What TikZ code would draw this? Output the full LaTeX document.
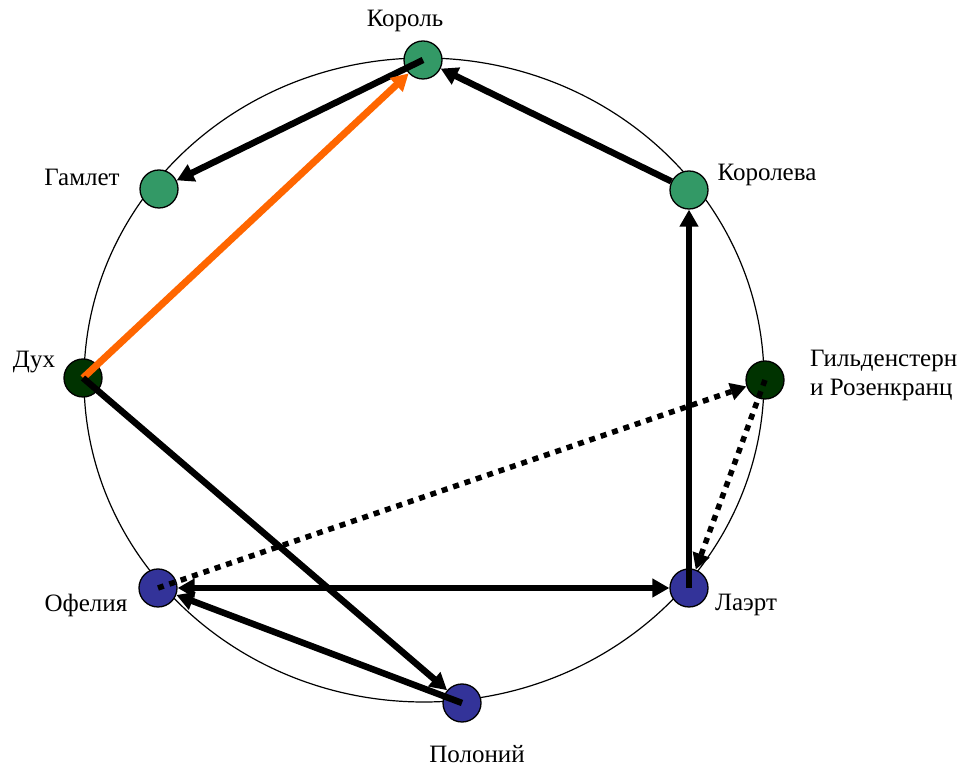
\documentclass[tikz,border=0pt]{standalone}
\usepackage{fontspec}
\setmainfont{Liberation Serif}
\usepackage{tkz-euclide}
\usetikzlibrary{arrows.meta}

\definecolor{courtGreen}{RGB}{51,153,102}
\definecolor{ghostGreen}{RGB}{0,51,0}
\definecolor{poloBlue}{RGB}{51,51,153}
\definecolor{ghostOrange}{RGB}{255,102,0}

\tikzset{
  hero/.style={circle, draw=black, line width=1.3pt, minimum size=38pt, inner sep=0pt},
  link/.style={line width=6.5pt, -{Triangle[length=17pt,width=18pt]}},
  hint/.style={line width=5.5pt, dash pattern=on 6pt off 6pt, -{Triangle[length=16pt,width=17pt]}},
  role/.style={font=\fontsize{25}{29}\selectfont, inner sep=0pt}
}

\begin{document}
\begin{tikzpicture}[x=1pt,y=1pt]
  \useasboundingbox (0,0) rectangle (968,767);
  \tkzDefPoints{424/387/C, 423/707/K, 159/578/G, 689/577/Q, 83/389/D,
                765/387/R, 158/179/O, 689/179/L, 462/64/P}

  \draw[line width=1.2pt] (C) ellipse [x radius=340, y radius=322];

  \node[hero, fill=courtGreen] (nK) at (K) {};
  \node[hero, fill=courtGreen] (nG) at (G) {};
  \node[hero, fill=courtGreen] (nQ) at (Q) {};
  \node[hero, fill=ghostGreen] (nD) at (D) {};
  \node[hero, fill=ghostGreen] (nR) at (R) {};
  \node[hero, fill=poloBlue] (nO) at (O) {};
  \node[hero, fill=poloBlue] (nL) at (L) {};
  \node[hero, fill=poloBlue] (nP) at (P) {};

  \draw[link] (nK.center) -- (nG);
  \draw[link] (nQ) -- (nK);
  \draw[link, ghostOrange, line width=7pt] (nD.center) -- (nK);
  \draw[link] (nD.center) -- (nP);
  \draw[link] (nP.center) -- (nO);
  \draw[link, {Triangle[length=17pt,width=18pt]}-{Triangle[length=17pt,width=18pt]}] (nO) -- (nL);
  \draw[link] (nL.center) -- (nQ);
  \draw[hint] (nO.center) -- (nR);
  \draw[hint] (nR.center) -- (nL);

  \node[role] (tK) at (405,746) {Король};
  \node[role] (tG) at (82,590) {Гамлет};
  \node[role] (tQ) at (767,592) {Королева};
  \node[role] (tD) at (34,405) {Дух};
  \node[role, anchor=west, align=left] (tR) at (810,392) {Гильденстерн\\и Розенкранц};
  \node[role] (tO) at (86,162) {Офелия};
  \node[role] (tL) at (746,162) {Лаэрт};
  \node[role] (tP) at (477,13) {Полоний};

\end{tikzpicture}
\end{document}
